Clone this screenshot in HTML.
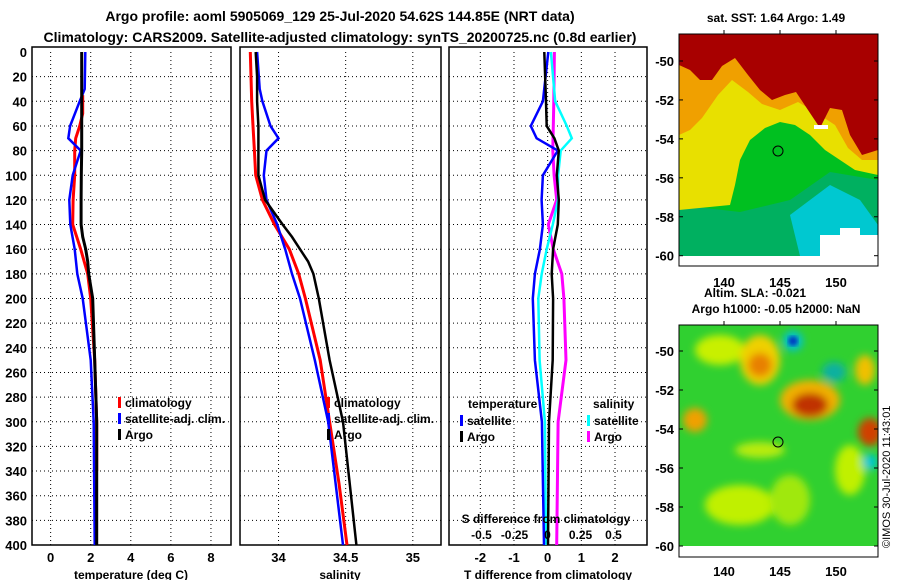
<!DOCTYPE html>
<html><head><meta charset="utf-8"><style>
html,body{margin:0;padding:0;background:#fff;}
svg text{font-family:"Liberation Sans",sans-serif;font-weight:bold;}
</style></head><body>
<svg id="fig" width="900" height="580" viewBox="0 0 900 580" xmlns="http://www.w3.org/2000/svg">
<defs>
<filter id="blur4"><feGaussianBlur stdDeviation="4"/></filter>
<filter id="blur2"><feGaussianBlur stdDeviation="2"/></filter>
<clipPath id="c1"><rect x="679" y="34" width="199" height="222"/></clipPath>
<clipPath id="c2"><rect x="679" y="325" width="199" height="221"/></clipPath>
</defs>
<text x="340" y="21" font-size="14" text-anchor="middle">Argo profile: aoml 5905069_129 25-Jul-2020 54.62S 144.85E (NRT data)</text>
<text x="340" y="42" font-size="14" text-anchor="middle">Climatology: CARS2009. Satellite-adjusted climatology: synTS_20200725.nc (0.8d earlier)</text>

<g id="panels"></g>

<!-- SST map -->
<text x="776" y="22" font-size="12" text-anchor="middle">sat. SST: 1.64 Argo: 1.49</text>
<g clip-path="url(#c1)">
<rect x="679" y="34" width="199" height="222" fill="#00c020"/>
<polygon fill="#00b060" points="679,205 740,212 790,200 830,172 878,180 878,256 679,256"/>
<polygon fill="#00c8d0" points="790,215 830,185 860,200 878,225 878,256 800,256"/>
<polygon fill="#e8e000" points="679,60 878,60 878,175 855,170 840,160 825,150 810,135 795,125 780,122 765,128 750,140 740,160 735,185 730,205 679,210"/>
<polygon fill="#f0a000" points="679,50 878,50 878,160 862,160 848,148 835,125 815,112 798,102 780,110 762,104 748,92 732,80 718,95 702,118 690,130 679,135"/>
<polygon fill="#a80000" points="679,34 878,34 878,150 862,155 850,135 842,110 830,108 820,128 808,110 796,92 785,95 772,100 760,90 748,75 735,58 722,66 712,80 700,80 690,70 679,65"/>
<rect x="820" y="235" width="58" height="21" fill="#fff"/>
<rect x="840" y="228" width="20" height="10" fill="#fff"/>
<rect x="814" y="125" width="14" height="4" fill="#fff"/>
<circle cx="778" cy="151" r="5" fill="none" stroke="#000"/>
</g>
<rect x="679" y="34" width="199" height="232" fill="none" stroke="#000"/>

<!-- SLA map -->
<text x="755" y="297" font-size="12" text-anchor="middle">Altim. SLA: -0.021</text>
<text x="776" y="313" font-size="12" text-anchor="middle">Argo h1000: -0.05 h2000: NaN</text>
<g clip-path="url(#c2)">
<rect x="679" y="325" width="199" height="221" fill="#30d030"/>
<g filter="url(#blur4)">
<ellipse cx="720" cy="350" rx="25" ry="15" fill="#c8f000"/>
<ellipse cx="760" cy="450" rx="25" ry="8" fill="#b8ec10"/>
<ellipse cx="740" cy="505" rx="35" ry="20" fill="#c0f000"/>
<ellipse cx="790" cy="500" rx="20" ry="25" fill="#a0e810"/>
<ellipse cx="850" cy="470" rx="15" ry="25" fill="#c0f000"/>
<ellipse cx="760" cy="360" rx="20" ry="25" fill="#f0d000"/>
<ellipse cx="760" cy="365" rx="12" ry="12" fill="#e88000"/>
<ellipse cx="810" cy="400" rx="30" ry="20" fill="#f0b000"/>
<ellipse cx="810" cy="405" rx="18" ry="12" fill="#c03000"/>
<ellipse cx="695" cy="420" rx="12" ry="12" fill="#f0a000"/>
<ellipse cx="870" cy="432" rx="12" ry="14" fill="#d04000"/>
<ellipse cx="865" cy="370" rx="10" ry="15" fill="#f0c000"/>
<ellipse cx="793" cy="341" rx="10" ry="10" fill="#00c0d0"/>
<ellipse cx="834" cy="372" rx="12" ry="10" fill="#10b0a0"/>
<ellipse cx="870" cy="462" rx="8" ry="8" fill="#00c8d0"/>
</g>
<circle cx="793" cy="341" r="5" fill="#0040c0" filter="url(#blur2)"/>
<circle cx="778" cy="442" r="5" fill="none" stroke="#000"/>
</g>
<rect x="679" y="325" width="199" height="232" fill="none" stroke="#000"/>
<text transform="translate(890,548) rotate(-90)" font-size="11" style="font-weight:normal">©IMOS 30-Jul-2020 11:43:01</text>
<g id="mapaxes"></g>
</svg>
<script>
// ---- data ----
const depthTicks = [0,20,40,60,80,100,120,140,160,180,200,220,240,260,280,300,320,340,360,380,400];
const tTicks = [0,2,4,6,8];
const sTicks = [34,34.5,35];
const dTTicks = [-2,-1,0,1,2];
const dSTicks = [-0.5,-0.25,0,0.25,0.5];
const dSTickLabels = ['-0.5','-0.25','0','0.25','0.5'];

const argoDepth = [0,20,40,60,70,80,100,120,140,150,160,170,180,190,200,250,300,350,400];
const argoTemp  = [1.55,1.55,1.55,1.55,1.55,1.55,1.53,1.52,1.52,1.6,1.75,1.85,1.9,2.0,2.1,2.2,2.3,2.3,2.3];
const argoSal   = [33.83,33.84,33.84,33.85,33.85,33.85,33.85,33.9,34.03,34.1,34.16,34.22,34.26,34.28,34.3,34.38,34.48,34.53,34.58];

const climDepth = [35,50,60,70,80,100,120,140,160,180,200,250,300,340];
const climTemp  = [1.6,1.6,1.45,1.25,1.2,1.2,1.12,1.1,1.5,1.85,2.0,2.2,2.3,2.3];
const climDepthS = [0,40,60,80,100,120,140,160,180,200,250,300,350,400];
const climSal   = [33.79,33.8,33.81,33.82,33.83,33.88,33.97,34.08,34.15,34.2,34.31,34.38,34.45,34.51];

const satDepth = [0,30,40,60,70,80,100,120,140,160,180,200,250,300,400];
const satTemp  = [1.73,1.7,1.45,0.97,0.88,1.5,1.1,0.93,0.98,1.2,1.33,1.6,2.0,2.15,2.2];
const satSal   = [33.84,33.86,33.88,33.94,34.0,33.91,33.89,33.91,33.99,34.05,34.1,34.16,34.27,34.37,34.48];

const diffDepth = [0,40,60,70,80,100,120,140,160,180,200,250,300,400];
const argoTDiff = [-0.1,-0.05,-0.03,0.2,0.33,0.27,0.33,0.3,0.16,0.12,0.16,0.15,0.04,0.01];
const satTDiff  = [0.02,-0.14,-0.5,-0.33,0.3,-0.14,-0.18,-0.14,-0.23,-0.38,-0.44,-0.38,-0.17,-0.11];
const satSDiff  = [0.026,0.058,0.146,0.184,0.1,0.08,0.08,0.04,-0.006,-0.044,-0.07,-0.06,-0.02,-0.012];
const argoSDiff = [0.052,0.048,0.044,0.042,0.04,0.05,0.07,0.006,0.044,0.108,0.124,0.14,0.08,0.07];

const latTicks = [-50,-52,-54,-56,-58,-60];
const lonTicks = [140,145,150];

// ---- drawing ----
const NS='http://www.w3.org/2000/svg';
const root=document.getElementById('panels');
function el(tag,attrs,parent,txt){const e=document.createElementNS(NS,tag);for(const k in attrs)e.setAttribute(k,attrs[k]);if(txt!==undefined)e.textContent=txt;(parent||root).appendChild(e);return e;}
const Y0=52, Y1=545;
const yS=d=>Y0+(d/400)*(Y1-Y0);
function panel(x0,x1,xmin,xmax,name){
  const g=el('g',{});
  
  
  const xs=v=>x0+(v-xmin)/(xmax-xmin)*(x1-x0);
  return {g,xs,x0,x1};
}
function grid(p,xt,yt){
  yt.forEach(d=>{if(d>0&&d<400){const l=el('line',{x1:p.x0,x2:p.x1,y1:yS(d),y2:yS(d),stroke:'#000','stroke-dasharray':'1,3'},p.g);
    }});
  xt.forEach(v=>{const l=el('line',{x1:p.xs(v),x2:p.xs(v),y1:Y0,y2:Y1,stroke:'#000','stroke-dasharray':'1,3'},p.g);
    });
  const r=el('rect',{x:p.x0,y:Y0-5,width:p.x1-p.x0,height:Y1-Y0+5,fill:'none',stroke:'#000','stroke-width':1.5},p.g);
  
}
function line(p,xs,ds,xvals,color,w,name){
  const pts=xvals.map((v,i)=>p.xs(v).toFixed(1)+','+yS(ds[i]).toFixed(1)).join(' ');
  const l=el('polyline',{points:pts,fill:'none',stroke:color,'stroke-width':w},p.g);
  
}
function txt(x,y,s,size,anchor,parent,name,fill){
  const t=el('text',{x,y,'font-size':size,'text-anchor':anchor||'start',fill:fill||'#000'},parent,s);
  return t;
}
function legend(p,x,y,items){
  items.forEach((it,i)=>{
    const r=el('rect',{x:x,y:y+i*16-9,width:3,height:11,fill:it[1]},p.g);
    
    txt(x+7,y+i*16+1,it[0],12,'start',p.g,'legend-entry');
  });
}

// panel 1
const p1=panel(32,231,-0.93,9.0,'temperature-panel');
grid(p1,tTicks,depthTicks);
line(p1,climDepth,climDepth,climTemp,'#f00',3,'climatology-temp-line');
line(p1,satDepth,satDepth,satTemp,'#00f',2.5,'satellite-temp-line');
line(p1,argoDepth,argoDepth,argoTemp,'#000',3,'argo-temp-line');
depthTicks.forEach(d=>txt(27,yS(d)+5,String(d),13,'end',p1.g,'y-tick-label'));
tTicks.forEach(v=>txt(p1.xs(v),562,String(v),13,'middle',p1.g,'x-tick-label'));
txt(131,579,'temperature (deg C)',12,'middle',p1.g,'x-axis-title');
legend(p1,118,406,[['climatology','#f00'],['satellite-adj. clim.','#00f'],['Argo','#000']]);

// panel 2
const p2=panel(240,441,33.713,35.21,'salinity-panel');
grid(p2,sTicks,depthTicks);
line(p2,climDepthS,climDepthS,climSal,'#f00',3,'climatology-sal-line');
line(p2,satDepth,satDepth,satSal,'#00f',2.5,'satellite-sal-line');
line(p2,argoDepth,argoDepth,argoSal,'#000',2.5,'argo-sal-line');
sTicks.forEach(v=>txt(p2.xs(v),562,String(v),13,'middle',p2.g,'x-tick-label'));
txt(340,579,'salinity',12,'middle',p2.g,'x-axis-title');
legend(p2,327,406,[['climatology','#f00'],['satellite-adj. clim.','#00f'],['Argo','#000']]);

// panel 3
const p3=panel(449,647,-2.93,2.95,'difference-panel');
const sx=v=>547.5+v*132;
const p3s={g:p3.g,xs:sx,x0:449,x1:647};
grid(p3,dTTicks,depthTicks);
line(p3s,diffDepth,diffDepth,argoSDiff,'#f0f',3,'argo-sal-diff-line');
line(p3s,diffDepth,diffDepth,satSDiff,'#0ff',2.5,'satellite-sal-diff-line');
line(p3,diffDepth,diffDepth,satTDiff,'#00f',2.5,'satellite-temp-diff-line');
line(p3,diffDepth,diffDepth,argoTDiff,'#000',2.5,'argo-temp-diff-line');
dTTicks.forEach(v=>txt(p3.xs(v),562,String(v),13,'middle',p3.g,'x-tick-label'));
txt(548,579,'T difference from climatology',12,'middle',p3.g,'x-axis-title');
txt(546,523,'S difference from climatology',12,'middle',p3.g,'s-axis-title');
dSTicks.forEach((v,i)=>txt(sx(v),539,dSTickLabels[i],12,'middle',p3.g,'s-tick-label'));
txt(468,408,'temperature',12,'start',p3.g,'legend-title-temperature');
txt(593,408,'salinity',12,'start',p3.g,'legend-title-salinity');
legend(p3,460,424,[['satellite','#00f'],['Argo','#000']]);
legend(p3,587,424,[['satellite','#0ff'],['Argo','#f0f']]);

// map axes
const ma=document.getElementById('mapaxes');
function mapAxes(ytop,lat50,lat60,labY){
  const ys=l=>lat50+(l+50)/(-10)*(lat60-lat50);
  const xs=l=>724+(l-140)*11.2;
  latTicks.forEach(l=>{
    txt(674,ys(l)+5,String(l),13,'end',ma,'map-lat-label');
    el('line',{x1:679,x2:683,y1:ys(l),y2:ys(l),stroke:'#000'},ma);
    el('line',{x1:874,x2:878,y1:ys(l),y2:ys(l),stroke:'#000'},ma);
  });
  lonTicks.forEach(l=>{
    txt(xs(l),labY,String(l),13,'middle',ma,'map-lon-label');
    el('line',{x1:xs(l),x2:xs(l),y1:ytop-4,y2:ytop,stroke:'#000'},ma);
  });
}
mapAxes(34,61,255.7,287);
mapAxes(325,351,546,576);
</script>
</body></html>
